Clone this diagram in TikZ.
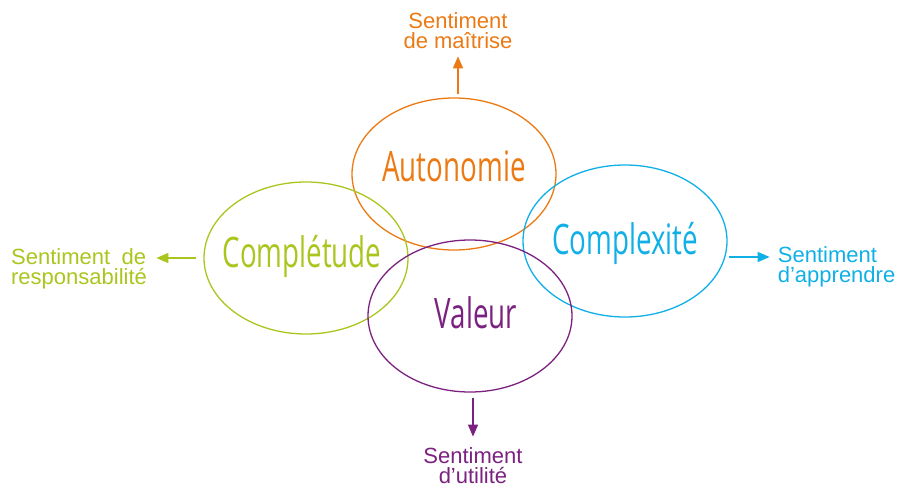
\documentclass[tikz,border=0pt]{standalone}
\usepackage{fontspec}
\setmainfont{Liberation Sans}
\newfontfamily\condfont{Open Sans}[FakeStretch=0.66]
\usepackage{tikz}
\usetikzlibrary{shapes.geometric,positioning,arrows.meta}

\definecolor{autocol}{HTML}{EC7A14}
\definecolor{complcol}{HTML}{AAC61E}
\definecolor{cplxcol}{HTML}{10B0E6}
\definecolor{valcol}{HTML}{7B2280}

\begin{document}
\begin{tikzpicture}[
    x=1pt, y=-1pt,
    >={Triangle[length=12pt,width=10pt]},
    bubble/.style={ellipse, draw, line width=1.3pt, minimum width=204pt,
        minimum height=152pt, inner sep=0pt},
    word/.style={anchor=base, inner sep=0pt,
        font=\condfont\fontsize{42}{44}\selectfont},
    feeling/.style={inner sep=0pt, font=\fontsize{22}{20}\selectfont},
    arr/.style={->, line width=1.3pt}
]
\useasboundingbox (0,0) rectangle (904,489);

% the four ellipses
\node[bubble, draw=autocol] (auto) at (454,174) {};
\node[bubble, draw=complcol] (compl) at (306,258) {};
\node[bubble, draw=cplxcol] (cplx) at (625,241) {};
\node[bubble, draw=valcol] (val) at (470,316) {};

\node[word, text=autocol, yshift=-8pt] (autotxt) at (auto) {Autonomie};
\node[word, text=complcol, xshift=-4pt, yshift=-9pt] (compltxt) at (compl) {Complétude};
\node[word, text=cplxcol, yshift=-13pt] (cplxtxt) at (cplx) {Complexité};
\node[word, text=valcol, xshift=6pt, yshift=-12pt] (valtxt) at (val) {Valeur};

% feelings
\node[feeling, text=autocol, align=center, above=48pt of auto, xshift=4pt] (maitrise) {Sentiment\\de maîtrise};
\node[feeling, text=complcol, text width=135pt, align=justify, left=57pt of compl, yshift=-11pt] (resp) {Sentiment de \mbox{responsabilité}};
\node[feeling, text=cplxcol, align=left, right=50pt of cplx, yshift=-26pt] (apprendre) {Sentiment\\d’apprendre};
\node[feeling, text=valcol, align=center, below=55pt of val, xshift=3pt] (utilite) {Sentiment\\d’utilité};

\draw[arr, autocol, shorten <=3pt, shorten >=7pt] (maitrise.south |- auto.north) -- (maitrise.south);
\draw[arr, complcol, shorten <=7pt, shorten >=10pt] (compl.west) -- (compl.west -| resp.east);
\draw[arr, cplxcol, shorten <=1pt, shorten >=8pt] ([yshift=10pt]apprendre.west -| cplx.east) -- ([yshift=10pt]apprendre.west);
\draw[arr, valcol, shorten <=5pt, shorten >=11pt] (utilite.north |- val.south) -- (utilite.north);

\end{tikzpicture}
\end{document}
